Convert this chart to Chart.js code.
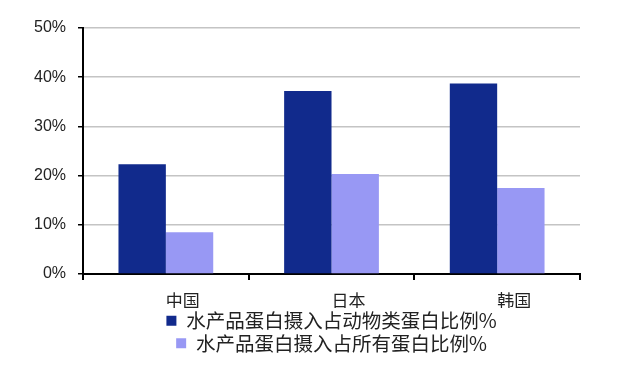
<!DOCTYPE html>
<html>
<head>
<meta charset="utf-8">
<script src="https://cdn.jsdelivr.net/npm/chart.js@4.4.0/dist/chart.umd.min.js"></script>
<style>
html,body{margin:0;padding:0;background:#fff;}
#wrap{width:640px;height:371px;position:relative;}
</style>
</head>
<body>
<div id="wrap"><canvas id="c" width="640" height="371"></canvas></div>
<script>
const categories = ['中国', '日本', '韩国'];
const seriesNames = ['水产品蛋白摄入占动物类蛋白比例%', '水产品蛋白摄入占所有蛋白比例%'];
const animalShare = [22.3, 37.2, 38.7];
const totalShare = [8.5, 20.3, 17.5];
const yTicks = [0, 10, 20, 30, 40, 50];

const cjk = '"Noto Sans CJK SC", "Noto Sans", sans-serif';

new Chart(document.getElementById('c'), {
  type: 'bar',
  data: {
    labels: categories,
    datasets: [
      { label: seriesNames[0], data: animalShare, backgroundColor: '#112a8c', borderWidth: 0 },
      { label: seriesNames[1], data: totalShare, backgroundColor: '#9898f4', borderWidth: 0 }
    ]
  },
  options: {
    responsive: false,
    animation: false,
    devicePixelRatio: 1,
    layout: { padding: { left: 22, right: 60, top: 28, bottom: 8 } },
    datasets: { bar: { categoryPercentage: 0.572, barPercentage: 1.0 } },
    plugins: {
      tooltip: { enabled: false },
      legend: {
        position: 'bottom',
        align: 'center',
        fullSize: false,
        labels: {
          boxWidth: 10,
          boxHeight: 10,
          padding: 3,
          color: '#222',
          font: { family: cjk, size: 19.5 }
        }
      }
    },
    scales: {
      x: {
        afterFit: (scale) => { scale.height = 34; },
        grid: { offset: true, drawOnChartArea: false, drawTicks: true, tickLength: 6, tickColor: '#000', lineWidth: 2 },
        border: { color: '#000', width: 2 },
        ticks: { color: '#222', font: { family: cjk, size: 17 }, padding: 10, labelOffset: 17 }
      },
      y: {
        min: 0,
        max: 50,
        afterBuildTicks: (axis) => { axis.ticks = yTicks.map(v => ({ value: v })); },
        grid: { color: '#c4c4c4', lineWidth: 1.5, tickLength: 5, tickColor: '#000' },
        border: { color: '#000', width: 2 },
        ticks: { color: '#222', font: { family: '"Liberation Sans", Arial, sans-serif', size: 16 }, padding: 12,
          callback: (v) => v + '%' }
      }
    }
  }
});
</script>
</body>
</html>
